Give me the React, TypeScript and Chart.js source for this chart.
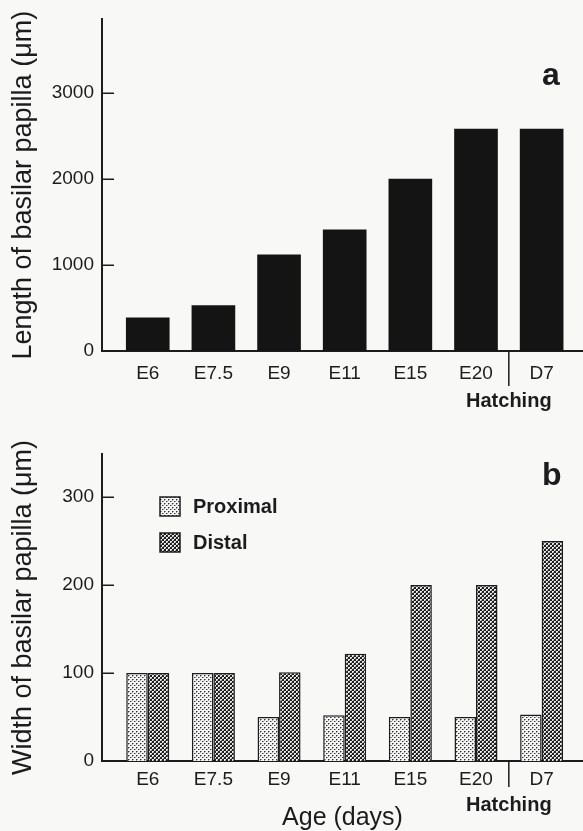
import React, { useEffect, useRef } from "react";
import { Chart, registerables } from "chart.js";

Chart.register(...registerables);

// ---- data ----
const categories = ["E6", "E7.5", "E9", "E11", "E15", "E20", "D7"];
const lengthValues = [390, 530, 1120, 1410, 2000, 2580, 2580];
const proximalValues = [100, 100, 50, 52, 50, 50, 53];
const distalValues = [100, 100, 101, 122, 200, 200, 250];
const lengthTicks = [0, 1000, 2000, 3000];
const widthTicks = [0, 100, 200, 300];
const hatchingBoundary = 5.5; // between E20 and D7
const seriesNames = ["Proximal", "Distal"];

const FONT = '"Liberation Sans", Arial, Helvetica, sans-serif';
const INK = "#1c1c1c";
const BG = "#f8f8f7";

function makePattern(dark: boolean): CanvasPattern | string {
  const c = document.createElement("canvas");
  c.width = 4;
  c.height = 4;
  const g = c.getContext("2d");
  if (!g) return dark ? "#555" : "#ccc";
  if (dark) {
    g.fillStyle = "#1e1e1e";
    g.fillRect(0, 0, 4, 4);
    g.fillStyle = "#ececec";
    g.fillRect(0, 0, 2, 1);
    g.fillRect(0, 1, 1, 1);
    g.fillRect(2, 2, 2, 1);
    g.fillRect(2, 3, 1, 1);
    g.fillStyle = "#8a8a8a";
    g.fillRect(1, 1, 1, 1);
    g.fillRect(3, 3, 1, 1);
  } else {
    g.fillStyle = "#f4f4f4";
    g.fillRect(0, 0, 4, 4);
    g.fillStyle = "#333333";
    g.fillRect(0, 0, 1, 1);
    g.fillRect(2, 2, 1, 1);
    g.fillStyle = "#9a9a9a";
    g.fillRect(1, 0, 1, 1);
    g.fillRect(3, 2, 1, 1);
    g.fillRect(0, 1, 1, 1);
  }
  return g.createPattern(c, "repeat") || (dark ? "#555" : "#ccc");
}

const annotatePlugin = {
  id: "annotate",
  afterDraw(chart: any, _args: any, opts: any) {
    const { ctx, chartArea } = chart;
    const x = chart.scales.x;
    const y = chart.scales.y;
    ctx.save();
    // inward tick marks on y axis
    ctx.strokeStyle = INK;
    ctx.lineWidth = 1.5;
    y.ticks.forEach((t: any) => {
      const py = Math.round(y.getPixelForValue(t.value)) + 0.25;
      ctx.beginPath();
      ctx.moveTo(chartArea.left, py);
      ctx.lineTo(chartArea.left + 12, py);
      ctx.stroke();
    });
    // hatching divider
    const hx = x.getPixelForValue(opts.boundary);
    ctx.beginPath();
    ctx.moveTo(hx, chartArea.bottom);
    ctx.lineTo(hx, chartArea.bottom + opts.dividerLen);
    ctx.stroke();
    ctx.fillStyle = INK;
    ctx.font = `bold 20px ${FONT}`;
    ctx.textAlign = "center";
    ctx.textBaseline = "middle";
    ctx.fillText("Hatching", hx, chartArea.bottom + opts.hatchOffset);
    // panel letter
    ctx.font = `bold 32px ${FONT}`;
    ctx.textAlign = "left";
    ctx.textBaseline = "alphabetic";
    ctx.fillText(opts.letter, opts.letterX, opts.letterY);
    // legend
    if (opts.legend) {
      chart.data.datasets.forEach((ds: any, i: number) => {
        const bx = opts.legend.x;
        const by = opts.legend.y + i * opts.legend.gap;
        ctx.fillStyle = ds.backgroundColor;
        ctx.fillRect(bx, by, 20, 19);
        ctx.strokeStyle = INK;
        ctx.lineWidth = 1.5;
        ctx.strokeRect(bx, by, 20, 19);
        ctx.fillStyle = INK;
        ctx.font = `bold 20px ${FONT}`;
        ctx.textAlign = "left";
        ctx.textBaseline = "middle";
        ctx.fillText(ds.label, bx + 33, by + 10);
      });
    }
    ctx.restore();
  },
};

function xScale(padTop: number, height: number, title?: string) {
  return {
    type: "linear" as const,
    min: -0.697,
    max: 6.63,
    offset: false,
    grid: { display: false, drawTicks: false, offset: false },
    border: { display: true, color: INK, width: 2 },
    afterBuildTicks: (s: any) => {
      s.ticks = categories.map((_, i) => ({ value: i }));
    },
    afterFit: (s: any) => {
      s.height = height;
    },
    ticks: {
      padding: padTop,
      color: INK,
      font: { family: FONT, size: 19 },
      autoSkip: false,
      maxRotation: 0,
      callback: (v: any) => categories[v] ?? "",
    },
    title: title
      ? {
          display: true,
          text: title,
          color: INK,
          font: { family: FONT, size: 25, lineHeight: 1 },
          padding: { top: 0, bottom: 0 },
        }
      : { display: false },
  };
}

function yScale(max: number, tickValues: number[], title: string) {
  return {
    type: "linear" as const,
    min: 0,
    max,
    grid: { display: false, drawTicks: false },
    border: { display: true, color: INK, width: 2 },
    afterBuildTicks: (s: any) => {
      s.ticks = tickValues.map((v) => ({ value: v }));
    },
    afterFit: (s: any) => {
      s.width = 102;
    },
    ticks: {
      padding: 8,
      color: INK,
      font: { family: FONT, size: 19 },
      callback: (v: any) => String(v),
    },
    title: {
      display: true,
      text: title,
      color: INK,
      font: { family: FONT, size: 27 },
      padding: { top: 7, bottom: 0 },
    },
  };
}

export default function App() {
  const topRef = useRef<HTMLCanvasElement | null>(null);
  const botRef = useRef<HTMLCanvasElement | null>(null);

  useEffect(() => {
    if (!topRef.current || !botRef.current) return;
    const top = new Chart(topRef.current, {
      type: "bar",
      data: {
        datasets: [
          {
            label: "Length",
            data: lengthValues.map((v, i) => ({ x: i, y: v })),
            backgroundColor: "#141414",
            borderWidth: 0,
            barPercentage: 0.665,
            categoryPercentage: 1,
          },
        ],
      },
      options: {
        animation: false,
        responsive: false,
        devicePixelRatio: 1,
        layout: { padding: { top: 12, right: 0, left: 0, bottom: 0 } },
        plugins: {
          legend: { display: false },
          tooltip: { enabled: false },
          annotate: {
            boundary: hatchingBoundary,
            dividerLen: 35,
            hatchOffset: 50,
            letter: "a",
            letterX: 542,
            letterY: 85,
          },
        } as any,
        scales: {
          x: xScale(11, 64),
          y: yScale(3850, lengthTicks, "Length of basilar papilla (μm)"),
        } as any,
      },
      plugins: [annotatePlugin],
    });

    const bot = new Chart(botRef.current, {
      type: "bar",
      data: {
        datasets: [
          {
            label: seriesNames[0],
            data: proximalValues.map((v, i) => ({ x: i, y: v })),
            backgroundColor: makePattern(false) as any,
            borderColor: INK,
            borderWidth: 1.5,
            barPercentage: 1,
            categoryPercentage: 0.655,
          },
          {
            label: seriesNames[1],
            data: distalValues.map((v, i) => ({ x: i, y: v })),
            backgroundColor: makePattern(true) as any,
            borderColor: INK,
            borderWidth: 1.5,
            barPercentage: 1,
            categoryPercentage: 0.655,
          },
        ],
      },
      options: {
        animation: false,
        responsive: false,
        devicePixelRatio: 1,
        layout: { padding: { top: 39, right: 0, left: 0, bottom: 0 } },
        plugins: {
          legend: { display: false },
          tooltip: { enabled: false },
          annotate: {
            boundary: hatchingBoundary,
            dividerLen: 26,
            hatchOffset: 44,
            letter: "b",
            letterX: 542,
            letterY: 70,
            legend: { x: 160, y: 82, gap: 36 },
          },
        } as any,
        scales: {
          x: xScale(7, 70, "Age (days)"),
          y: yScale(349, widthTicks, "Width of basilar papilla (μm)"),
        } as any,
      },
      plugins: [annotatePlugin],
    });

    return () => {
      top.destroy();
      bot.destroy();
    };
  }, []);

  return (
    <div
      style={{
        position: "absolute",
        left: 0,
        top: 0,
        width: 583,
        height: 831,
        background: BG,
        overflow: "hidden",
      }}
    >
      <canvas ref={topRef} width={583} height={415} style={{ display: "block" }} />
      <canvas ref={botRef} width={583} height={416} style={{ display: "block" }} />
    </div>
  );
}
